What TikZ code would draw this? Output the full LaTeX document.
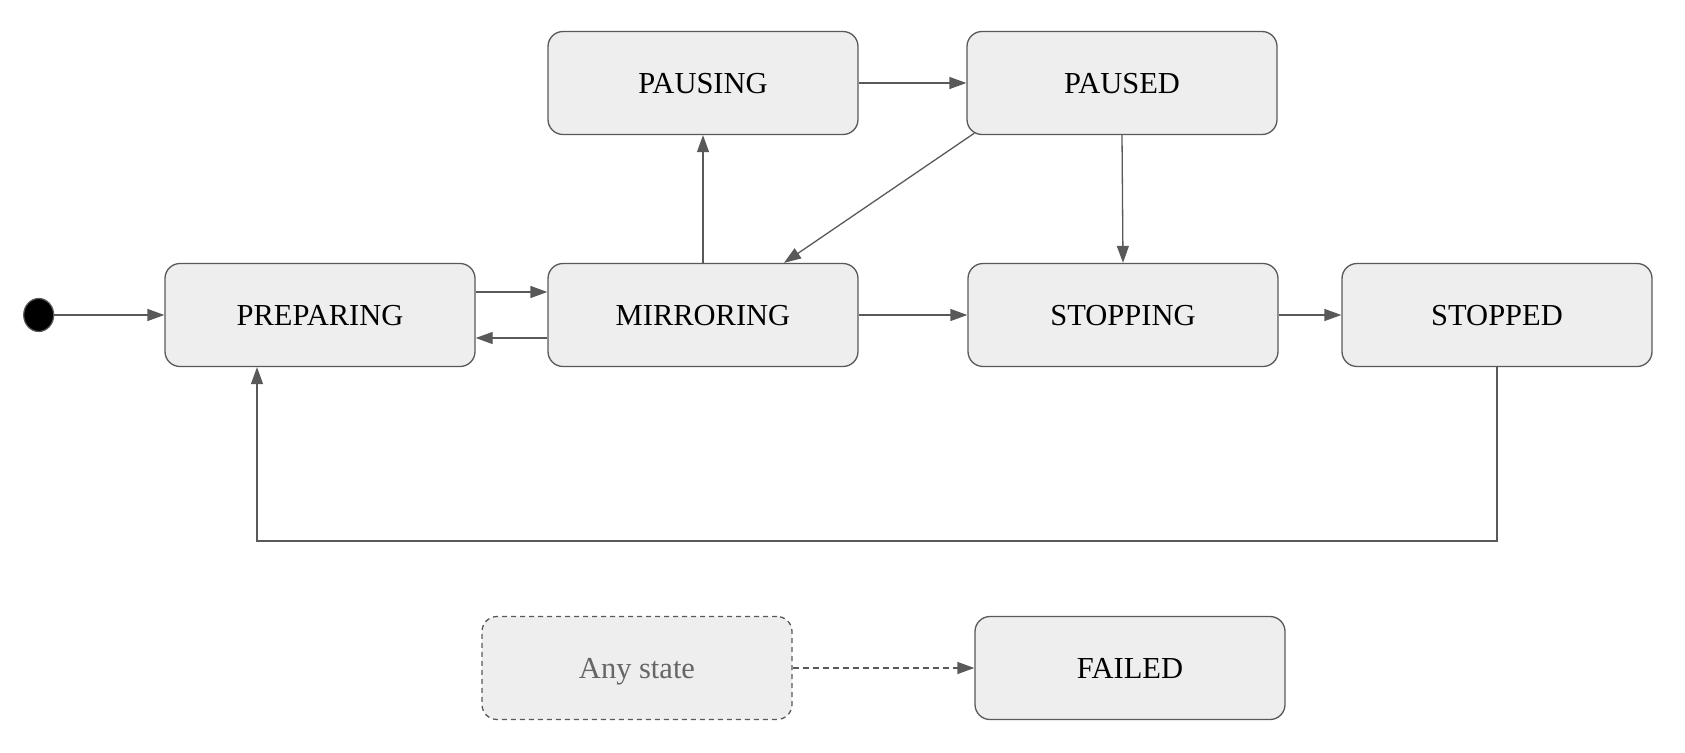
\documentclass[tikz,border=0pt]{standalone}
\usepackage{fontspec}
\setmainfont{Liberation Serif}
\usetikzlibrary{arrows.meta,shapes.geometric}
\definecolor{boxfill}{HTML}{EEEEEE}
\definecolor{edge}{HTML}{595959}
\definecolor{greytext}{HTML}{666666}
\begin{document}
\begin{tikzpicture}[x=1pt,y=-1pt,
  statebox/.style={draw=edge, fill=boxfill, line width=1.3pt, rounded corners=15pt,
    minimum width=310pt, minimum height=103pt, inner sep=0pt, text height=20pt, text depth=0pt,
    font=\fontsize{30.5}{36}\selectfont},
  conn/.style={draw=edge, line width=1.3pt, -{Triangle[length=17pt,width=12pt]}},
]
\useasboundingbox (0,0) rectangle (1685,752);
\node[statebox] (pausing) at (703,83) {PAUSING};
\node[statebox] (paused) at (1122,83) {PAUSED};
\node[statebox] (prep) at (320,315) {PREPARING};
\node[statebox] (mir) at (703,315) {MIRRORING};
\node[statebox] (stopping) at (1123,315) {STOPPING};
\node[statebox] (stopped) at (1497,315) {STOPPED};
\node[statebox, dashed, dash pattern=on 5pt off 4pt, text=greytext] (any) at (637,668) {Any state};
\node[statebox] (failed) at (1130,668) {FAILED};
\node[draw=edge, fill=black, line width=1.2pt, ellipse, minimum width=30pt, minimum height=33pt, inner sep=0pt] (init) at (38.7,315) {};
\draw[conn] (init) -- (prep.west);
\draw[conn] ([yshift=23pt]prep.east) -- ([yshift=23pt]mir.west);
\draw[conn] ([yshift=-23pt]mir.west) -- ([yshift=-23pt]prep.east);
\draw[conn] (mir.north) -- (pausing.south);
\draw[conn] (pausing.east) -- (paused.west);
\draw[conn] ([xshift=8pt,yshift=2pt]paused.south west) -- ([xshift=81pt]mir.north);
\draw[conn] (paused.south) -- (stopping.north);
\draw[conn] (mir.east) -- (stopping.west);
\draw[conn] (stopping.east) -- (stopped.west);
\coordinate (cr) at (1497,541);
\coordinate (cl) at (257,541);
\draw[conn] (stopped.south) -- (cr) -- (cl) -- (cl |- prep.south);
\draw[conn, dashed, dash pattern=on 6pt off 4pt] (any.east) -- (failed.west);
\end{tikzpicture}
\end{document}
